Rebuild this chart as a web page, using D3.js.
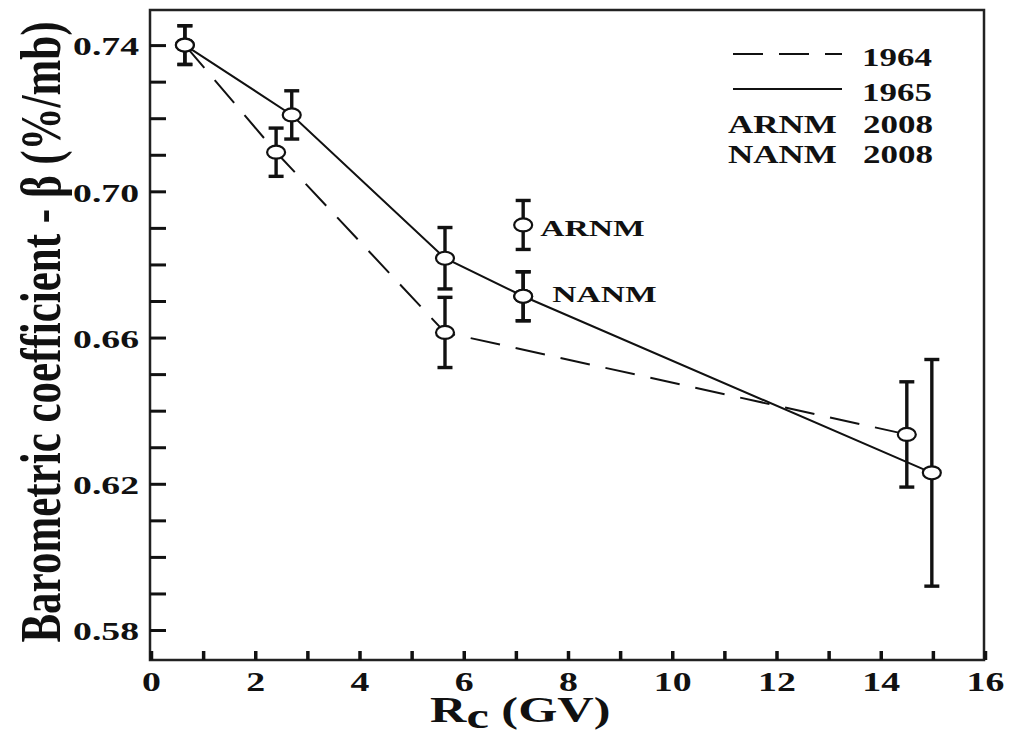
<!DOCTYPE html>
<html>
<head>
<meta charset="utf-8">
<script src="https://cdn.jsdelivr.net/npm/d3@7"></script>
<style>
 body { margin: 0; background: #fff; }
 text { font-family: "Liberation Serif", "Times New Roman", serif; font-weight: bold; fill: #111; }
</style>
</head>
<body>
<svg width="1012" height="735"></svg>
<script>
 // values
 var rc1964 = [0.65, 2.40, 5.64, 14.50];
 var beta1964 = [0.740, 0.7107, 0.6614, 0.6335];
 var err1964 = [0.0053, 0.0066, 0.0096, 0.0144];

 var rc1965 = [0.65, 2.70, 5.64, 7.14, 14.98];
 var beta1965 = [0.740, 0.7209, 0.6817, 0.6713, 0.6230];
 var err1965 = [0.0053, 0.0066, 0.0084, 0.0067, 0.031];

 var stations = ["ARNM", "NANM"];
 var rcStations = [7.14, 7.14];
 var betaStations = [0.6908, 0.6713];
 var errStations = [0.0067, 0.0067];

 var legendYears = ["1964", "1965"];
 var legendStations = ["ARNM", "NANM"];
 var legendStationYear = ["2008", "2008"];

 var xTicks = d3.range(0, 17);
 var yTicks = d3.range(58, 75).map(d => d / 100);

 var svg = d3.select("svg");
 var sx = 1.4; // the picture is stretched sideways

 var x = d3.scaleLinear().domain([0, 16]).range([151, 985]);
 var y = d3.scaleLinear().domain([0.5718, 0.7496]).range([660, 10]);

 function pts(xs, ys, es) {
   return xs.map((v, i) => ({ x: v, y: ys[i], e: es[i] }));
 }
 var s1964 = pts(rc1964, beta1964, err1964);
 var s1965 = pts(rc1965, beta1965, err1965);
 var sSta = pts(rcStations, betaStations, errStations);

 // frame
 svg.append("rect")
   .attr("x", 150).attr("y", 10)
   .attr("width", 834).attr("height", 650)
   .attr("fill", "none").attr("stroke", "#222").attr("stroke-width", 2.5);

 // x axis, ticks inside
 var gx = svg.append("g")
   .attr("transform", "translate(0,660)")
   .call(d3.axisBottom(x).tickValues(xTicks).tickSize(-9)
     .tickFormat(d => d % 2 === 0 ? d : ""));
 gx.select(".domain").remove();
 gx.selectAll(".tick line").attr("stroke", "#111").attr("stroke-width", 3.5);
 gx.selectAll(".tick text")
   .attr("y", 31).attr("dy", null)
   .attr("transform", "scale(1.35,1)")
   .attr("x", 0)
   .style("font-size", "28px").attr("fill", "#111");

 // y axis, ticks inside
 var gy = svg.append("g")
   .attr("transform", "translate(150,0)")
   .call(d3.axisLeft(y).tickValues(yTicks).tickSize(-16)
     .tickFormat(d => Math.round(d * 100) % 4 === 2 ? d3.format(".2f")(d) : ""));
 gy.select(".domain").remove();
 gy.selectAll(".tick line").attr("stroke", "#111").attr("stroke-width", 3);
 gy.selectAll(".tick text")
   .attr("x", 0).attr("dy", "0.38em")
   .attr("transform", "translate(-11,0) scale(1.45,1)")
   .style("font-size", "26px").attr("fill", "#111");

 // axis titles
 svg.append("text")
   .attr("transform", "translate(60,332) scale(1.35,1) rotate(-90)")
   .attr("text-anchor", "middle")
   .style("font-size", "43px")
   .text("Barometric coefficient - \u03b2 (%/mb)");

 var xl = svg.append("text")
   .attr("transform", "translate(430,722) scale(" + sx + ",1)")
   .style("font-size", "36px");
 xl.append("tspan").text("R");
 xl.append("tspan").attr("dy", 6).text("c");
 xl.append("tspan").attr("dy", -6).text(" (GV)");

 // lines
 var line = d3.line().x(d => x(d.x)).y(d => y(d.y));
 svg.append("path").datum(s1964)
   .attr("d", line).attr("fill", "none")
   .attr("stroke", "#111").attr("stroke-width", 2)
   .attr("stroke-dasharray", "30,16");
 svg.append("path").datum(s1965)
   .attr("d", line).attr("fill", "none")
   .attr("stroke", "#111").attr("stroke-width", 2);

 // error bars and markers
 function drawPoints(data) {
   var g = svg.append("g").selectAll("g").data(data).enter().append("g");
   g.append("line")
     .attr("x1", d => x(d.x)).attr("x2", d => x(d.x))
     .attr("y1", d => y(d.y + d.e)).attr("y2", d => y(d.y - d.e))
     .attr("stroke", "#111").attr("stroke-width", 3.4);
   [1, -1].forEach(function(s) {
     g.append("line")
       .attr("x1", d => x(d.x) - 7.5).attr("x2", d => x(d.x) + 7.5)
       .attr("y1", d => y(d.y + s * d.e)).attr("y2", d => y(d.y + s * d.e))
       .attr("stroke", "#111").attr("stroke-width", 3.4);
   });
   g.append("ellipse")
     .attr("cx", d => x(d.x)).attr("cy", d => y(d.y))
     .attr("rx", 9).attr("ry", 6.5)
     .attr("fill", "#fff").attr("stroke", "#111").attr("stroke-width", 2.2);
 }
 drawPoints(s1964);
 drawPoints(s1965);
 drawPoints(sSta);

 // station labels beside their points
 var labOff = [[17, 11], [29, 6]];
 stations.forEach(function(name, i) {
   svg.append("text")
     .attr("transform", "translate(" + (x(rcStations[i]) + labOff[i][0]) + "," +
       (y(betaStations[i]) + labOff[i][1]) + ") scale(" + sx + ",1)")
     .style("font-size", "24px").attr("fill", "#222")
     .text(name);
 });

 // legend
 var leg = svg.append("g");
 legendYears.forEach(function(yr, i) {
   var ly = 54 + i * 35;
   leg.append("line")
     .attr("x1", 733).attr("x2", 842).attr("y1", ly).attr("y2", ly)
     .attr("stroke", "#111").attr("stroke-width", 2)
     .attr("stroke-dasharray", i === 0 ? "30,16" : null);
   leg.append("text")
     .attr("transform", "translate(862," + (ly + 12) + ") scale(" + sx + ",1)")
     .style("font-size", "25px").text(yr);
 });
 legendStations.forEach(function(st, i) {
   var ly = 133 + i * 30;
   leg.append("text")
     .attr("transform", "translate(728," + ly + ") scale(" + sx + ",1)")
     .style("font-size", "25px").text(st);
   leg.append("text")
     .attr("transform", "translate(863," + ly + ") scale(" + sx + ",1)")
     .style("font-size", "25px").text(legendStationYear[i]);
 });
</script>
</body>
</html>
